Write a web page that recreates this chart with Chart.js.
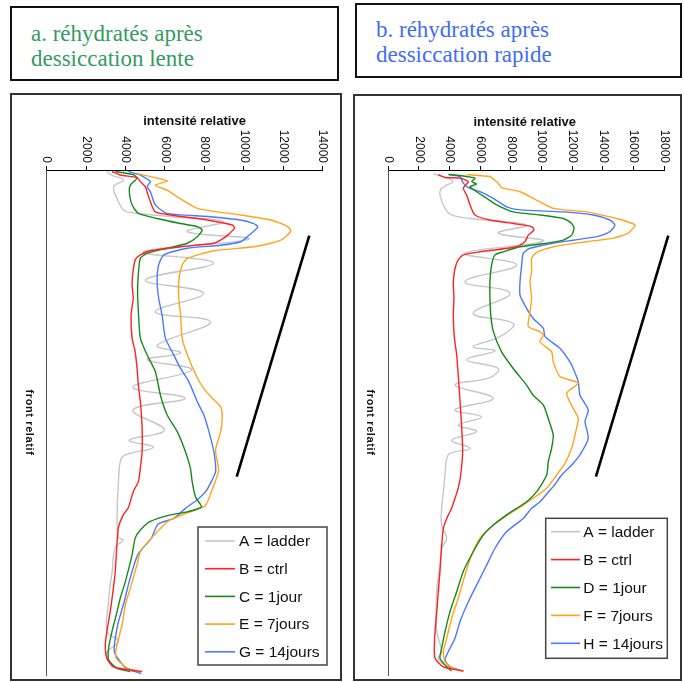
<!DOCTYPE html>
<html lang="fr">
<head>
<meta charset="UTF-8">
<title>réhydratés après dessiccation</title>
<script src="https://cdn.jsdelivr.net/npm/chart.js"></script>
<style>
  body { margin: 0; width: 684px; height: 682px; position: relative; background: #fff; overflow: hidden; }
  .tbox { position: absolute; box-sizing: border-box; border: 2px solid #111; font-family: "Liberation Serif", "Times New Roman", serif; font-size: 23px; line-height: 25px; }
  .panel { position: absolute; box-sizing: border-box; border: 2px solid #333; }
  .panel canvas { position: absolute; left: 0; top: 0; }
</style>
</head>
<body>
<div class="tbox" style="left:10px;top:6px;width:329px;height:75px;padding:13px 0 0 19px;color:#349b62;">a. réhydratés après<br>dessiccation lente</div>
<div class="tbox" style="left:355px;top:3px;width:327px;height:75px;padding:12px 0 0 19px;color:#3f6ef2;">b. réhydratés après<br>dessiccation rapide</div>

<div class="panel" style="left:10px;top:93px;width:332px;height:588px;"><canvas id="chartA" width="328" height="584"></canvas></div>
<div class="panel" style="left:353px;top:94px;width:329px;height:587px;"><canvas id="chartB" width="325" height="583"></canvas></div>

<script>
// ---- données : [front relatif (0-100), intensité relative] ----
const seriesColors = ['#c6c6c6', '#ff2222', '#16891a', '#ffa41c', '#4a78ff'];
const labelsA = ['A = ladder', 'B = ctrl', 'C = 1jour', 'E = 7jours', 'G = 14jours'];
const labelsB = ['A = ladder', 'B = ctrl', 'D = 1jour', 'F = 7jours', 'H = 14jours'];
const intensityMaxA = 14000;
const intensityMaxB = 18000;
const tickStep = 2000;

// a. dessiccation lente
const ladderA = [[0.3,3050],[1.0,3300],[2.0,3890],[3.3,3400],[5.6,3560],[7.6,3820],[8.3,4070],[9.3,6530],[10.2,8970],[12.2,7130],[13.7,10250],[16.2,4900],[18.4,8470],[21.8,5000],[24.4,7960],[28.1,5510],[30.1,8310],[34.7,5610],[36.2,6790],[37.6,5100],[39.6,7350],[43.0,4370],[45.2,7020],[47.5,4370],[51.5,5970],[53.5,4190],[54.9,5410],[56.5,3940],[57.8,3730],[62.4,3630],[67.0,3580],[72.7,3630],[73.3,3880],[74.7,3480],[79.6,3320],[82.2,3220],[86.1,3120],[91.5,3070],[93.1,3630],[94.1,3480],[95.4,3070],[97.4,3120],[98.6,3730],[99.4,4750]];
const ctrlA = [[0.3,3310],[1.0,3730],[1.5,4580],[2.3,4750],[3.3,5000],[4.3,5090],[6.3,5260],[8.3,5510],[9.0,6430],[9.9,8140],[10.9,9420],[11.5,9530],[12.9,9180],[13.9,8820],[14.5,8470],[15.2,6790],[16.0,5260],[16.8,4750],[17.8,4490],[20.1,4380],[22.8,4330],[25.3,4390],[28.7,4280],[33.3,4330],[36.0,4490],[39.2,4580],[42.6,4650],[45.9,4750],[51.1,4840],[55.8,4840],[59.0,4750],[61.7,4650],[63.7,4390],[66.9,4140],[68.3,3880],[70.9,3630],[74.3,3560],[79.5,3480],[83.5,3360],[87.5,3220],[91.4,3050],[94.1,2970],[96.6,3050],[98.4,3380],[99.0,4240],[99.3,4840]];
const jour1A = [[0.3,3480],[0.9,4390],[1.6,4580],[3.0,4240],[4.3,4190],[6.9,4330],[8.6,4650],[9.6,5600],[10.6,6790],[11.2,7640],[11.9,7890],[13.2,7640],[14.5,7130],[15.5,6110],[16.5,5090],[17.5,4750],[20.1,4660],[24.1,4610],[28.7,4660],[33.3,4750],[36.6,5090],[39.9,5510],[44.6,5770],[48.5,6110],[51.8,6620],[55.8,7040],[59.1,7290],[61.7,7380],[64.8,7550],[66.7,7850],[67.7,7130],[68.3,6280],[69.6,5260],[71.3,4750],[72.9,4490],[76.2,4330],[81.5,3990],[84.8,3730],[88.1,3530],[91.4,3310],[94.7,3140],[97.0,3140],[98.7,3560],[99.3,4240]];
const jours7A = [[0.7,4580],[1.6,5600],[2.2,6120],[3.0,5510],[4.0,6110],[5.3,6620],[7.6,7640],[8.9,9840],[9.9,11370],[11.2,12220],[12.1,12380],[13.9,11880],[15.2,10500],[16.0,8470],[17.5,7130],[18.8,6870],[22.1,6700],[25.4,6700],[28.7,6790],[33.3,6870],[36.6,7130],[41.2,7640],[43.2,7960],[45.2,8400],[46.9,8820],[48.9,8900],[51.9,8820],[55.5,8560],[59.5,8720],[63.6,8360],[66.5,8040],[67.8,7190],[69.5,6170],[72.9,5310],[75.6,4750],[78.2,4580],[82.8,4240],[86.1,3990],[90.1,3820],[94.7,3530],[96.7,3530],[98.7,4110],[99.3,4750]];
const jours14A = [[0.3,4140],[1.0,4750],[2.3,5260],[3.3,5090],[4.3,5260],[6.9,5510],[8.6,6110],[9.2,8140],[9.9,9840],[10.6,10500],[11.3,10710],[13.2,10180],[14.2,9840],[14.9,8820],[15.5,7130],[16.8,5940],[18.8,5680],[22.1,5600],[25.4,5680],[28.7,5850],[33.3,6020],[36.6,6440],[39.3,6790],[41.9,7210],[45.9,7640],[48.5,7970],[51.8,8230],[55.8,8480],[59.7,8570],[62.0,8310],[63.7,8060],[65.3,7640],[67.0,7040],[69.0,6440],[70.1,5650],[72.9,5310],[76.1,4630],[81.4,4190],[85.4,3940],[90.1,3600],[95.4,3430],[98.7,4040],[99.7,4800]];
const slopeA = [[13.0,13320],[60.7,9640]];

// b. dessiccation rapide
const ladderB = [[0.7,2930],[2.2,4200],[3.6,3480],[5.0,3370],[7.6,3700],[8.9,4130],[9.6,5330],[10.9,9020],[12.5,7170],[14.1,10110],[16.5,5000],[18.8,8370],[22.1,5000],[24.4,7940],[28.4,5540],[30.4,8150],[33.0,7280],[35.0,5540],[35.8,6960],[37.6,5110],[39.3,7170],[41.1,6630],[42.6,4350],[45.2,6850],[47.5,4350],[48.9,6090],[50.5,4560],[51.8,5760],[53.5,4130],[55.1,5330],[56.1,4020],[57.1,3810],[60.4,3700],[63.7,3590],[67.0,3480],[70.3,3480],[72.9,3810],[74.9,3480],[78.2,3370],[80.2,3260],[83.5,3160],[87.5,3110],[91.4,3160],[92.7,3260],[95.4,3480],[96.7,3260],[98.0,3700],[99.1,4680]];
const ctrlB = [[0.9,3260],[1.5,3700],[1.6,4680],[2.3,5220],[3.6,4890],[5.0,5110],[6.9,5330],[8.9,5650],[9.9,6630],[10.6,8150],[11.2,9350],[11.9,9500],[12.9,9130],[14.2,8910],[15.2,8370],[16.2,5980],[16.8,4890],[17.8,4560],[19.5,4350],[22.1,4240],[25.4,4280],[28.7,4240],[33.0,4300],[36.6,4460],[40.6,4560],[45.9,4680],[51.1,4790],[55.8,4850],[60.4,4720],[63.0,4560],[65.0,4350],[67.0,4130],[69.0,3810],[71.0,3590],[74.3,3480],[79.5,3370],[83.5,3260],[87.5,3160],[91.4,3050],[94.7,3000],[96.7,3050],[98.4,3590],[99.2,4890]];
const jour1B = [[0.9,3910],[1.1,4680],[1.6,5650],[2.3,5440],[2.8,5760],[3.3,5330],[4.3,5760],[5.6,6420],[6.9,7070],[8.3,8150],[8.9,9890],[9.6,11410],[10.6,11960],[11.5,12110],[12.9,11960],[13.9,11410],[14.5,10330],[15.2,8590],[16.2,7500],[16.8,6960],[18.8,6740],[22.1,6630],[25.4,6630],[28.7,6680],[32.0,6850],[36.0,7390],[39.3,8150],[42.6,9020],[44.6,9450],[46.5,10110],[49.2,10430],[52.5,10760],[55.1,10650],[57.8,10430],[60.4,10330],[63.7,9680],[65.7,9020],[67.0,8370],[68.3,7720],[70.3,6850],[72.3,6190],[75.6,5540],[79.5,4890],[83.5,4460],[87.5,4020],[91.4,3700],[94.7,3480],[96.7,3370],[98.4,3810],[99.2,4130]];
const jours7B = [[0.9,5110],[1.3,6630],[1.8,6850],[2.6,7170],[3.5,7390],[4.3,8590],[5.6,9450],[7.6,10760],[8.3,12940],[9.6,14890],[10.2,15540],[10.9,16090],[12.5,15650],[13.5,14670],[14.2,12940],[15.2,10760],[16.3,9680],[17.5,9350],[20.1,9350],[22.1,9240],[25.4,9350],[28.1,9240],[31.0,9130],[32.0,9890],[32.7,10110],[34.0,9890],[36.0,10650],[38.0,10760],[40.9,11190],[42.2,12390],[44.2,11630],[47.2,12060],[49.2,12390],[52.5,12170],[55.1,11960],[58.1,11520],[60.4,10980],[63.0,10330],[65.0,9450],[67.0,8480],[68.0,7940],[70.3,6850],[72.9,5980],[76.2,5440],[80.2,5000],[84.8,4560],[88.8,4130],[92.7,3810],[95.4,3590],[97.4,3700],[98.7,4240],[99.3,4890]];
const jours14B = [[0.9,4020],[1.3,4680],[2.6,4890],[3.5,5220],[4.3,5980],[5.6,6850],[7.3,7720],[7.9,8590],[8.3,11410],[8.9,13370],[9.9,14450],[10.9,14780],[12.2,14450],[13.2,13590],[13.9,12060],[14.5,10760],[15.5,9240],[16.5,8800],[18.8,8700],[22.1,8590],[24.8,8590],[27.4,9020],[29.4,9450],[31.3,10110],[33.0,10220],[35.3,11190],[38.0,11850],[39.3,12060],[41.9,12390],[44.6,12500],[47.5,13040],[49.8,12830],[53.1,13040],[56.4,12500],[58.4,11960],[60.4,11310],[62.7,10760],[63.4,10540],[65.7,9890],[67.0,9350],[69.0,8800],[71.6,7720],[74.9,6960],[78.2,6420],[82.2,5760],[85.5,5220],[89.4,4680],[92.7,4350],[95.4,3910],[97.0,3700],[98.4,4020],[99.2,4890]];
const slopeB = [[13.0,18260],[60.7,13540]];

Chart.defaults.font.family = '"Liberation Sans", Arial, sans-serif';

const toPoints = arr => arr.map(([f, v]) => ({ x: v, y: f }));

// étiquettes tournées, titres d'axes et légende encadrée
const decor = {
    id: 'decor',
    afterDraw(chart, args, o) {
        const { ctx, chartArea: ca, scales: { x, y } } = chart;
        ctx.save();
        ctx.fillStyle = '#111';
        ctx.font = '12px "Liberation Sans", Arial, sans-serif';
        ctx.textAlign = 'right';
        ctx.textBaseline = 'middle';
        x.ticks.forEach(t => {
            ctx.save();
            ctx.translate(x.getPixelForValue(t.value), ca.top - 7);
            ctx.rotate(Math.PI / 2);
            ctx.fillText(String(t.value), 0, 0);
            ctx.restore();
        });

        ctx.font = 'bold 13px "Liberation Sans", Arial, sans-serif';
        ctx.textAlign = 'center';
        ctx.fillText('intensité relative', x.getPixelForValue(o.titleAt), ca.top - o.titleDy);

        ctx.save();
        ctx.translate(ca.left - o.frontDx, y.getPixelForValue(50));
        ctx.rotate(Math.PI / 2);
        ctx.font = 'bold 11px "Liberation Sans", Arial, sans-serif';
        ctx.letterSpacing = '0.6px';
        ctx.fillText('front relatif', 0, 0);
        ctx.restore();

        const L = o.legend;
        ctx.fillStyle = '#fff';
        ctx.fillRect(L.x, L.y, L.w, L.h);
        ctx.strokeStyle = '#444';
        ctx.lineWidth = 1.5;
        ctx.strokeRect(L.x, L.y, L.w, L.h);
        ctx.font = '15.5px "Liberation Sans", Arial, sans-serif';
        ctx.textAlign = 'left';
        o.labels.forEach((lab, i) => {
            const yy = L.y + L.first + i * L.gap;
            ctx.strokeStyle = seriesColors[i];
            ctx.lineWidth = 1.6;
            ctx.beginPath();
            ctx.moveTo(L.x + L.l0, yy);
            ctx.lineTo(L.x + L.l1, yy);
            ctx.stroke();
            ctx.fillStyle = '#111';
            ctx.fillText(lab, L.x + L.tx, yy + 1);
        });
        ctx.restore();
    }
};

function makeChart(id, series, slope, labels, maxX, pad, deco) {
    const datasets = series.map((s, i) => ({
        label: labels[i],
        data: toPoints(s),
        borderColor: seriesColors[i],
        borderWidth: 1.4,
        tension: i === 0 ? 0.4 : 0.2,
        order: i === 0 ? 10 : 0
    }));
    datasets.push({
        label: '',
        data: toPoints(slope),
        borderColor: '#000',
        borderWidth: 2.6,
        tension: 0,
        clip: false
    });
    return new Chart(document.getElementById(id), {
        type: 'scatter',
        data: { datasets },
        options: {
            responsive: false,
            animation: false,
            devicePixelRatio: 1,
            showLine: true,
            elements: { point: { radius: 0 } },
            layout: { padding: pad },
            plugins: { legend: { display: false }, tooltip: { enabled: false }, decor: deco },
            scales: {
                x: {
                    type: 'linear', position: 'top', min: 0, max: maxX,
                    ticks: { display: false, stepSize: tickStep },
                    grid: { display: true, drawOnChartArea: false, drawTicks: true, tickLength: 4, color: '#000', lineWidth: 1 },
                    border: { display: true, color: '#000', width: 1 }
                },
                y: {
                    type: 'linear', reverse: true, min: 0, max: 100,
                    ticks: { display: false },
                    grid: { display: false, drawTicks: false },
                    border: { display: true, color: '#555', width: 1 }
                }
            }
        },
        plugins: [decor]
    });
}

makeChart('chartA', [ladderA, ctrlA, jour1A, jours7A, jours14A], slopeA, labelsA, intensityMaxA,
    { left: 34.7, right: 17.3, top: 71, bottom: 4 },
    { titleAt: 7500, titleDy: 49, frontDx: 18, labels: labelsA,
      legend: { x: 186, y: 432, w: 129, h: 138, first: 14, gap: 27.7, l0: 7, l1: 37, tx: 41 } });

makeChart('chartB', [ladderB, ctrlB, jour1B, jours7B, jours14B], slopeB, labelsB, intensityMaxB,
    { left: 33.3, right: 15.7, top: 70, bottom: 4 },
    { titleAt: 8900, titleDy: 47.5, frontDx: 18.3, labels: labelsB,
      legend: { x: 190.7, y: 422.3, w: 121.6, h: 140, first: 13.4, gap: 27.9, l0: 5.3, l1: 34.3, tx: 37.6 } });
</script>
</body>
</html>
